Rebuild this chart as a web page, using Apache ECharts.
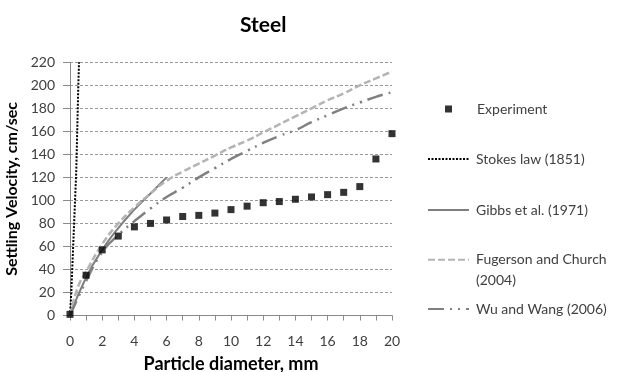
<!DOCTYPE html>
<html>
<head>
<meta charset="utf-8">
<script src="https://cdn.jsdelivr.net/npm/echarts@6/dist/echarts.min.js"></script>
<style>
html,body{margin:0;padding:0;background:#fff;}
#chart{width:617px;height:372px;}
</style>
</head>
<body>
<div id="chart"></div>
<script>
// ---- data ----
var diameters = [0,1,2,3,4,5,6,7,8,9,10,11,12,13,14,15,16,17,18,19,20];
var experiment = [1,35,57,69,77,80,83,86,87,89,92,95,98,99,101,103,105,107,112,136,158];
var stokesD = [0,0.08,0.39,0.52,0.56];
var stokesV = [0,20,126,202,220];
var gibbsD = [0,1,2,3,4,5,6];
var gibbsV = [0,33,57,76,92,106,120];
var fugersonD = [0,0.5,1,2,3,4,5,6,7,8,9,10,11,12,13,14,15,16,17,18,19,20];
var fugersonV = [0,25,38,62,80,94,106,117,125,132,139,146,152,159,166,173,180,187,193,200,206,212];
var wuD = [0,1,2,3,4,5,6,7,8,9,10,11,12,13,14,15,16,17,18,19,20];
var wuV = [0,30,55,70,82,93,103,111,120,128,136,143,150,156,161,168,174,180,185,190,194];
var xTicks = [0,2,4,6,8,10,12,14,16,18,20];
var yTicks = [0,20,40,60,80,100,120,140,160,180,200,220];
var names = ['Experiment','Stokes law (1851)','Gibbs et al. (1971)','Fugerson and Church (2004)','Wu and Wang (2006)'];

function pairs(xs, ys){ return xs.map(function(x,i){ return [x, ys[i]]; }); }

var FONT = 'Lato, "Open Sans", sans-serif';
var TXT = '#404040';

var legendCenters = [110, 160, 211, 260, 310];
function mkLegend(i){
  var lg = {
    data: [names[i]],
    orient: 'vertical',
    left: 427,
    top: legendCenters[i] - 8,
    padding: 0,
    itemWidth: 41,
    itemHeight: 16,
    selectedMode: false,
    itemStyle: { color: 'transparent', borderColor: 'transparent', borderWidth: 0, opacity: 0 },
    textStyle: { fontFamily: FONT, fontSize: 14, color: TXT, padding:[0,0,0,2] }
  };
  if (i === 0) {
    lg.itemWidth = 7; lg.itemHeight = 7; lg.left = 445; lg.top = legendCenters[i] - 8;
    lg.itemStyle = { color: '#000' };
    lg.textStyle.padding = [0,0,0,20];
  }
  if (i === 3) {
    lg.formatter = function(){ return ' \nFugerson and Church\n(2004)'; };
    lg.textStyle.lineHeight = 20.5;
    lg.top = legendCenters[i] - 31;
  }
  return lg;
}

var chart = echarts.init(document.getElementById('chart'), null, {renderer:'canvas'});
chart.setOption({
  animation: false,
  backgroundColor: '#fff',
  title: {
    text: 'Steel', left: 235, top: 10,
    textStyle: { fontFamily: FONT, fontSize: 21, fontWeight: 'bold', color: '#000' }
  },
  legend: [mkLegend(0), mkLegend(1), mkLegend(2), mkLegend(3), mkLegend(4)],
  grid: { left: 70, right: 225, top: 62.3, bottom: 56.5, containLabel: false, outerBoundsMode: 'none' },
  xAxis: {
    type: 'value', min: 0, max: 20, interval: 1,
    name: 'Particle diameter, mm', nameLocation: 'middle', nameGap: 40,
    nameTextStyle: { fontFamily: FONT, fontSize: 18, fontWeight: 'bold', color: '#000' },
    axisLine: { show: true, onZero: false, lineStyle: { color: '#8a8a8a', width: 1 } },
    axisTick: { show: true, length: 5, lineStyle: { color: '#8a8a8a' } },
    axisLabel: {
      fontFamily: FONT, fontSize: 14, color: TXT, margin: 19,
      formatter: function(v){ return xTicks.indexOf(v) >= 0 ? String(v) : ''; }
    },
    splitLine: { show: false }
  },
  yAxis: {
    type: 'value', min: 0, max: 220, interval: 20,
    name: 'Settling Velocity, cm/sec', nameLocation: 'middle', nameGap: 46,
    nameTextStyle: { fontFamily: FONT, fontSize: 16, fontWeight: 'bold', color: '#000' },
    axisLine: { show: true, lineStyle: { color: '#8a8a8a', width: 1 } },
    axisTick: { show: true, length: 7, lineStyle: { color: '#8a8a8a' } },
    axisLabel: {
      fontFamily: FONT, fontSize: 14, color: TXT, margin: 15,
      formatter: function(v){ return yTicks.indexOf(v) >= 0 ? String(v) : ''; }
    },
    splitLine: { show: true, lineStyle: { color: '#9a9a9a', width: 1, type: [3,2] } }
  },
  series: [
    {
      name: names[1], type: 'line', data: pairs(stokesD, stokesV), symbol: 'none', z: 3,
      lineStyle: { color: '#000', width: 2, type: [2,1.5] }, itemStyle: { color: '#000' }
    },
    {
      name: names[2], type: 'line', data: pairs(gibbsD, gibbsV), symbol: 'none', smooth: true, z: 3,
      lineStyle: { color: '#7f7f7f', width: 2, type: 'solid' }, itemStyle: { color: '#7f7f7f' }
    },
    {
      name: names[3], type: 'line', data: pairs(fugersonD, fugersonV), symbol: 'none', smooth: true, z: 3,
      lineStyle: { color: '#b4b4b4', width: 2.5, type: [7,3] }, itemStyle: { color: '#b4b4b4' }
    },
    {
      name: names[4], type: 'line', data: pairs(wuD, wuV), symbol: 'none', smooth: true, z: 3,
      lineStyle: { color: '#808080', width: 2.5, type: [16,6,2,6,2,6] }, itemStyle: { color: '#808080' }
    },
    {
      name: names[0], type: 'scatter', data: pairs(diameters, experiment), symbol: 'rect', symbolSize: 7, z: 5,
      itemStyle: { color: '#000' }
    }
  ]
});
</script>
</body>
</html>
